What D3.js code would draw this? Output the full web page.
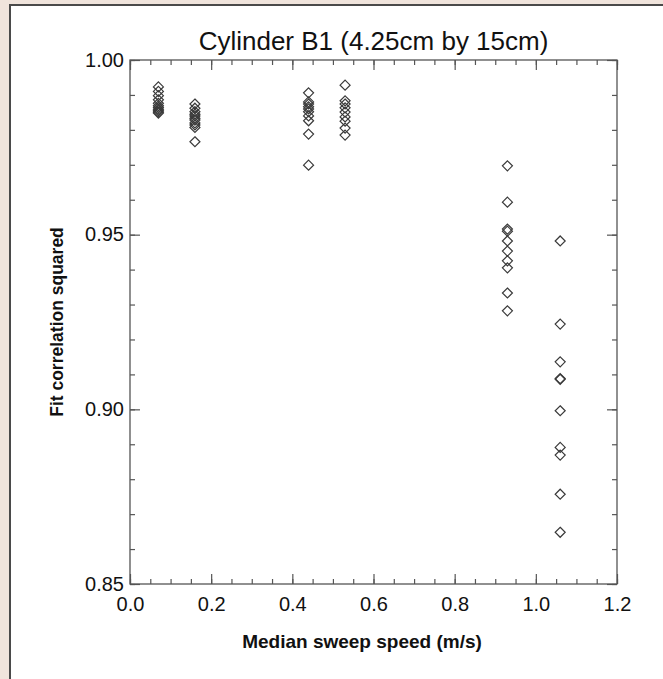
<!DOCTYPE html>
<html>
<head>
<meta charset="utf-8">
<script src="https://cdn.jsdelivr.net/npm/d3@7"></script>
<style>
  html, body { margin: 0; padding: 0; background: #f0e4dc; }
  svg { display: block; }
</style>
</head>
<body>
<svg id="chart" width="663" height="679"></svg>
<script>
// median sweep speed for each group of runs (m/s)
const speeds = [0.07, 0.16, 0.44, 0.53, 0.93, 1.06];

// fit correlation squared, one list per speed
const r2Values = [
    [0.9923, 0.9910, 0.9898, 0.9886, 0.9876, 0.9869, 0.9864, 0.9859, 0.9855, 0.9851, 0.9848],
    [0.9874, 0.9862, 0.9852, 0.9845, 0.9840, 0.9833, 0.9828, 0.9820, 0.9814, 0.9807, 0.9766],
    [0.9906, 0.9880, 0.9874, 0.9866, 0.9860, 0.9852, 0.9840, 0.9826, 0.9788, 0.9699],
    [0.9928, 0.9883, 0.9874, 0.9863, 0.9851, 0.9837, 0.9825, 0.9805, 0.9785],
    [0.9697, 0.9593, 0.9516, 0.9510, 0.9482, 0.9453, 0.9425, 0.9405, 0.9333, 0.9282],
    [0.9482, 0.9244, 0.9136, 0.9088, 0.9086, 0.8996, 0.8891, 0.8869, 0.8757, 0.8648]
];

const xTicks = [0.0, 0.2, 0.4, 0.6, 0.8, 1.0, 1.2];
const yTicks = [0.85, 0.90, 0.95, 1.00];

const title = "Cylinder B1 (4.25cm by 15cm)";
const xTitle = "Median sweep speed (m/s)";
const yTitle = "Fit correlation squared";

const svg = d3.select("#chart");

// white panel with a dark edge on the left and top
svg.append("rect")
    .attr("x", 10).attr("y", 5)
    .attr("width", 700).attr("height", 700)
    .attr("fill", "#fff")
    .attr("stroke", "#4a4a4a")
    .attr("stroke-width", 2);

const margin = {top: 60, left: 130};
const width = 487, height = 524;
const g = svg.append("g").attr("transform", `translate(${margin.left},${margin.top})`);

const x = d3.scaleLinear().domain([0, 1.2]).range([0, width]);
const y = d3.scaleLinear().domain([0.85, 1.0]).range([height, 0]);

const axisColor = "#555";
const font = "'Liberation Sans', Arial, sans-serif";

// minor ticks every 0.05 on x, 0.01 on y
const xMinor = d3.range(0, 1.2001, 0.05);
const yMinor = d3.range(0.85, 1.0001, 0.01);

function drawAxis(axis, transform, minor, major, fmt) {
    const a = g.append("g").attr("transform", transform);
    a.call(axis.tickValues(minor).tickSize(5).tickFormat(""));
    const b = g.append("g").attr("transform", transform);
    b.call(axis.tickValues(major).tickSize(10).tickFormat(fmt));
    [a, b].forEach(s => {
        s.select(".domain").remove();
        s.selectAll("line").attr("stroke", axisColor).attr("stroke-width", 1.2);
        s.selectAll("text").attr("fill", "#111").style("font-family", font).style("font-size", "20px");
    });
    return b;
}

// ticks point inward on all four sides
const bottom = drawAxis(d3.axisTop(x), `translate(0,${height})`, xMinor, xTicks, d3.format(".1f"));
bottom.selectAll("text").attr("y", 27).attr("dy", 0);
drawAxis(d3.axisBottom(x), "translate(0,0)", xMinor, xTicks, "");
const left = drawAxis(d3.axisRight(y), "translate(0,0)", yMinor, yTicks, d3.format(".2f"));
left.selectAll("text").attr("x", -6).attr("text-anchor", "end").attr("dy", "0.3em");
drawAxis(d3.axisLeft(y), `translate(${width},0)`, yMinor, yTicks, "");

// frame
g.append("rect")
    .attr("width", width).attr("height", height)
    .attr("fill", "none")
    .attr("stroke", axisColor)
    .attr("stroke-width", 1.3);

// diamond marker
const diamond = {
    draw(ctx, size) {
        const r = Math.sqrt(size / 2);
        ctx.moveTo(0, -r);
        ctx.lineTo(r, 0);
        ctx.lineTo(0, r);
        ctx.lineTo(-r, 0);
        ctx.closePath();
    }
};

const points = speeds.flatMap((s, i) => r2Values[i].map(v => ({speed: s, r2: v})));

g.selectAll("path.pt")
    .data(points)
    .enter().append("path")
    .attr("class", "pt")
    .attr("transform", d => `translate(${x(d.speed)},${y(d.r2)})`)
    .attr("d", d3.symbol().type(diamond).size(50))
    .attr("fill", "none")
    .attr("stroke", "#3a3a3a")
    .attr("stroke-width", 1.2);

// titles
svg.append("text")
    .attr("x", margin.left + width / 2).attr("y", 50)
    .attr("text-anchor", "middle")
    .style("font-family", font).style("font-size", "26px")
    .attr("fill", "#111")
    .text(title);

svg.append("text")
    .attr("x", 362).attr("y", 648)
    .attr("text-anchor", "middle")
    .style("font-family", font).style("font-size", "19px").style("font-weight", "bold")
    .attr("fill", "#111")
    .text(xTitle);

svg.append("text")
    .attr("transform", `translate(63,${margin.top + height / 2}) rotate(-90)`)
    .attr("text-anchor", "middle")
    .style("font-family", font).style("font-size", "17.5px").style("font-weight", "bold")
    .attr("fill", "#111")
    .text(yTitle);
</script>
</body>
</html>
